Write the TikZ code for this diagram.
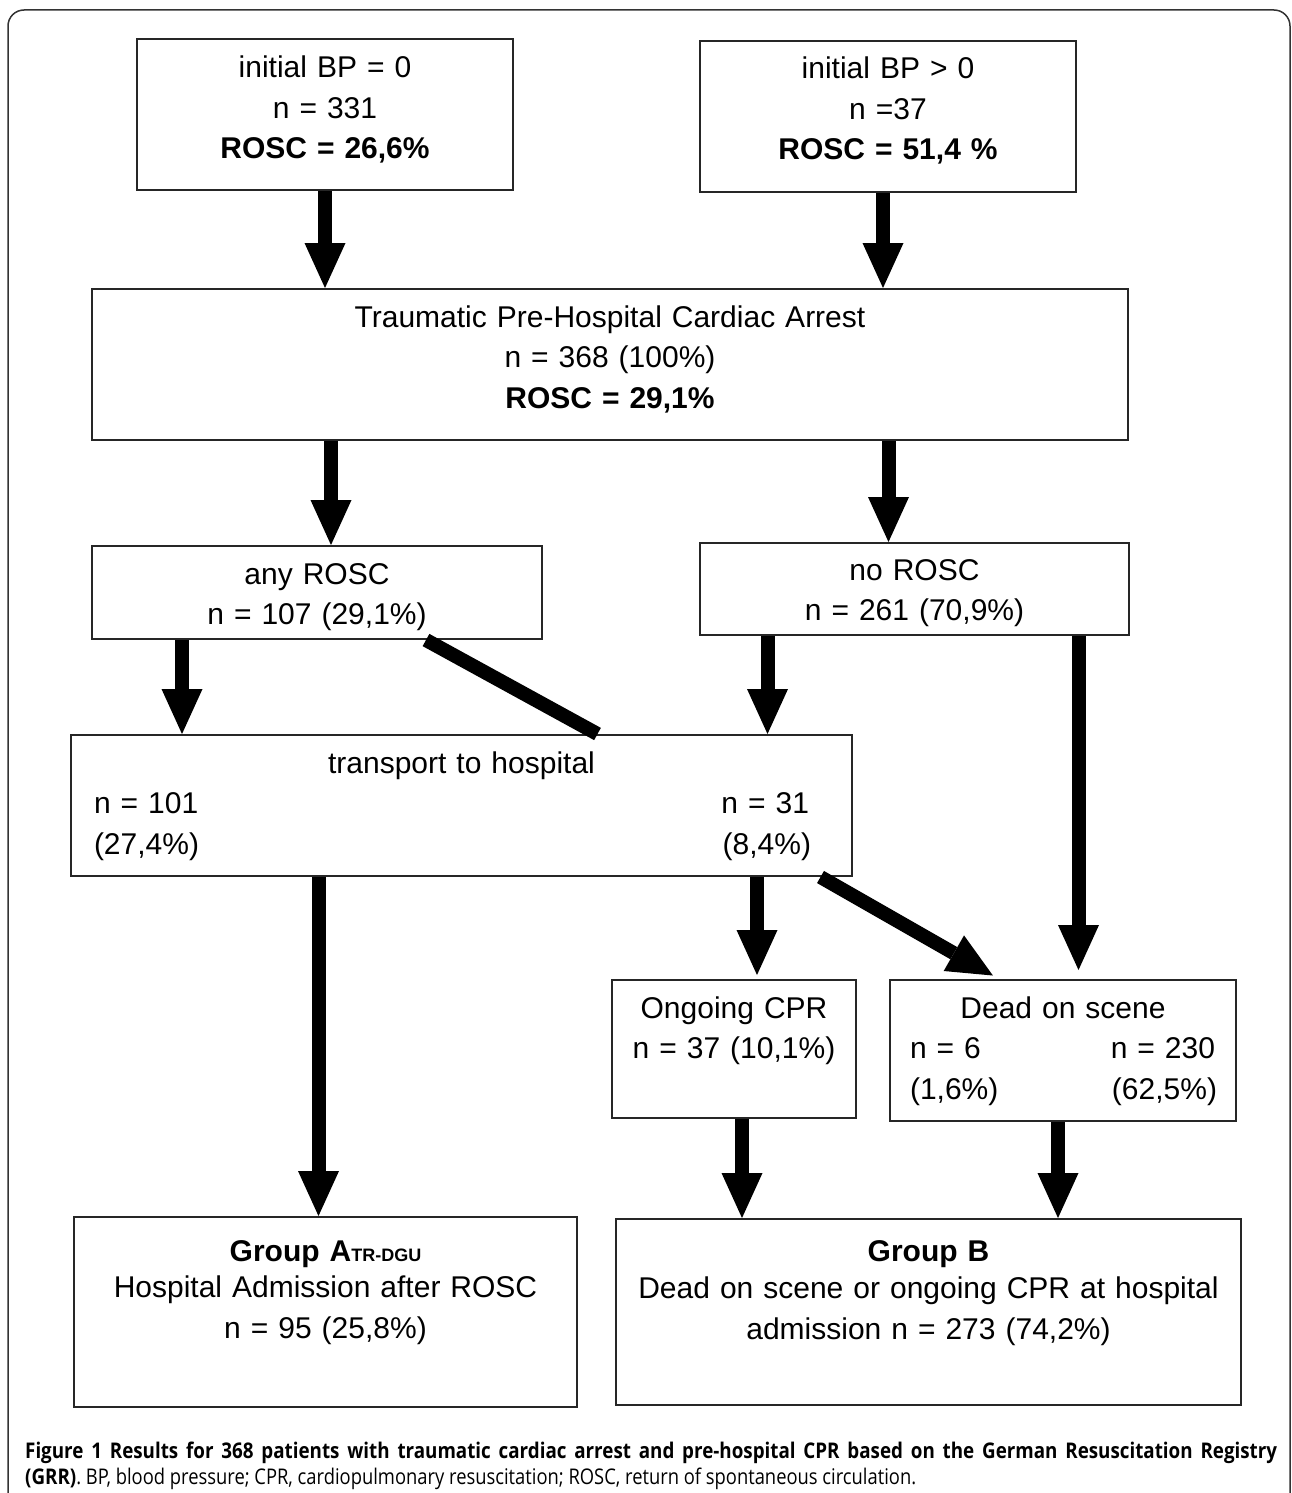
\documentclass[tikz,border=0pt]{standalone}
\usepackage{fontspec}
\setmainfont{Liberation Sans}
\newfontfamily\capfont[FakeStretch=0.85, BoldFeatures={FakeStretch=0.87}]{Open Sans}
\usetikzlibrary{arrows.meta, calc}
\tikzset{
    fatarrow/.style={line width=14pt, -{Triangle[width=41pt, length=45pt, line width=0pt]}},
    fatline/.style={line width=14pt}
}
\tikzset{
    box/.style={draw=black!85, line width=2pt, inner sep=0pt, align=center, anchor=north west,
        font=\fontsize{30}{40.5}\selectfont}
}
\begin{document}
\begin{tikzpicture}[x=1pt, y=-1pt]
    \useasboundingbox (0,0) rectangle (1292,1493);
    % frame
    \draw[line width=1.5pt, rounded corners=16pt, draw=black!80] (8,1530) -- (8,10) -- (1290,10) -- (1290,1530);
    % boxes
    \node[box, text width=376pt, text height=39pt, text depth=112pt] (bpz) at (136,38)
        {initial BP = 0\\ n = 331\\ \textbf{ROSC = 26,6\%}};
    \node[box, text width=376pt, text height=38pt, text depth=113pt] (bpp) at (699,40)
        {initial BP > 0\\ n =37\\ \textbf{ROSC = 51,4 \%}};
    \node[box, text width=1036pt, text height=38pt, text depth=113pt] (tpca) at (91,288)
        {Traumatic Pre-Hospital Cardiac Arrest\\ n = 368 (100\%)\\ \textbf{ROSC = 29,1\%}};
    \node[box, text width=450pt, text height=38pt, text depth=55pt] (anyr) at (91,545)
        {any ROSC\\ n = 107 (29,1\%)};
    \node[box, text width=429pt, text height=37pt, text depth=55pt] (nor) at (699,542)
        {no ROSC\\ n = 261 (70,9\%)};
    \node[box, text width=781pt, text height=38pt, text depth=103pt] (trans) at (70,734)
        {transport to hospital\\
         \makebox[781pt]{\hspace*{23pt}n = 101\hfill n = 31\hspace*{43pt}}\\
         \makebox[781pt]{\hspace*{23pt}(27,4\%)\hfill (8,4\%)\hspace*{41pt}}};
    \node[box, text width=244pt, text height=38pt, text depth=100pt] (cpr) at (611,979)
        {Ongoing CPR\\ n = 37 (10,1\%)};
    \node[box, text width=346pt, text height=38pt, text depth=103pt] (dead) at (889,979)
        {Dead on scene\\
         \makebox[346pt]{\hspace*{20pt}n = 6\hfill n = 230\hspace*{21pt}}\\
         \makebox[346pt]{\hspace*{20pt}(1,6\%)\hfill (62,5\%)\hspace*{19pt}}};
    \node[box, text width=503pt, text height=44pt, text depth=146pt] (grpa) at (73,1216)
        {\textbf{Group A{\fontsize{18}{18}\selectfont TR-DGU}}\\[-4pt]
         Hospital Admission after ROSC\\ n = 95 (25,8\%)};
    \node[box, text width=625pt, text height=42pt, text depth=144pt] (grpb) at (615,1218)
        {\textbf{Group B}\\[-3pt]
         Dead on scene or ongoing CPR at hospital\\ admission n = 273 (74,2\%)};
    % arrows
    \draw[fatarrow] (bpz.south) -- (bpz.south |- tpca.north);
    \draw[fatarrow] ([xshift=-5pt]bpp.south) -- ([xshift=-5pt]bpp.south |- tpca.north);
    \draw[fatarrow] ([xshift=14pt]anyr.north |- tpca.south) -- ([xshift=14pt]anyr.north);
    \draw[fatarrow] ([xshift=-26pt]nor.north |- tpca.south) -- ([xshift=-26pt]nor.north);
    \draw[fatarrow] ([xshift=-135pt]anyr.south) -- ([xshift=-135pt]anyr.south |- trans.north);
    \draw[fatline] ([xshift=109pt]anyr.south) -- ([xshift=136pt]trans.north);
    \draw[fatarrow] ([xshift=-147pt]nor.south) -- ([xshift=-147pt]nor.south |- trans.north);
    \draw[fatarrow, shorten >=9pt] ([xshift=164pt]nor.south) -- ([xshift=164pt]nor.south |- dead.north);
    \draw[fatarrow] ([xshift=-143pt]trans.south) -- ([xshift=-143pt]trans.south |- grpa.north);
    \draw[fatarrow, shorten >=4pt] ([xshift=23pt]cpr.north |- trans.south) -- ([xshift=23pt]cpr.north);
    \draw[fatarrow, shorten >=7pt] ([xshift=359pt]trans.south) -- ([xshift=-64pt]dead.north);
    \draw[fatarrow] ([xshift=8pt]cpr.south) -- ([xshift=8pt]cpr.south |- grpb.north);
    \draw[fatarrow] ([xshift=-5pt]dead.south) -- ([xshift=-5pt]dead.south |- grpb.north);
    % caption
    \node[anchor=base west, inner sep=0pt, text width=1252pt, align=justify,
          font=\capfont\fontsize{21.6}{26}\selectfont] (cap) at (25,1458)
        {\textbf{Figure 1 Results for 368 patients with traumatic cardiac arrest and pre-hospital CPR based on the German Resuscitation Registry}\linebreak
         \textbf{(GRR)}. BP, blood pressure; CPR, cardiopulmonary resuscitation; ROSC, return of spontaneous circulation.\par};
\end{tikzpicture}
\end{document}
